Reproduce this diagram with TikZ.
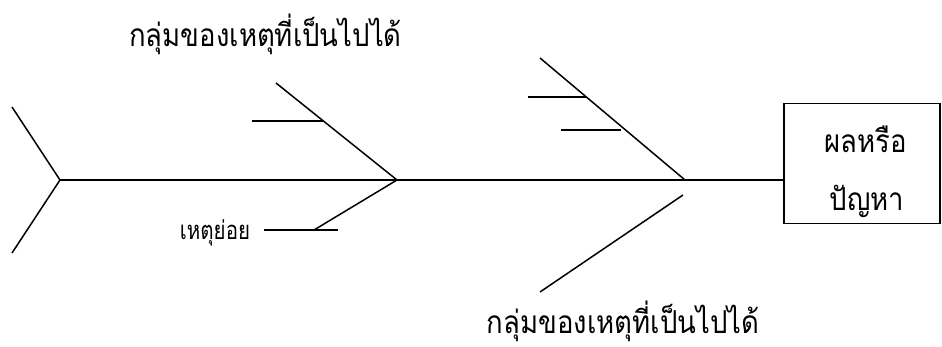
\documentclass[tikz,border=0pt]{standalone}
\usepackage{graphicx}
\usepackage{fontspec}
\newfontfamily\thaifont[Script=Thai]{Loma}
\newcommand{\tallthai}[2]{\scalebox{1}[#1]{#2}}
\begin{document}
\begin{tikzpicture}[x=1pt,y=-1pt,
  bone/.style={line width=1.5pt},
  biglbl/.style={font=\thaifont\fontsize{27.5}{32}\selectfont, anchor=base, inner sep=0pt},
  smalllbl/.style={font=\thaifont\fontsize{20.5}{24}\selectfont, anchor=base, inner sep=0pt},
  effbox/.style={draw, line width=1.5pt, minimum width=156pt, minimum height=120pt, inner sep=0pt, anchor=north west}]
\useasboundingbox (0,0) rectangle (942,347);
% tail
\coordinate (tailT) at (12,107);
\coordinate (tailJ) at (60,180);
\coordinate (tailB) at (12,253);
% effect box
\node[effbox] (effect) at (783,103) {};
\node[biglbl] (effA) at (866,153) {\tallthai{1.15}{ผลหรือ}};
\node[biglbl] (effB) at (867,211) {\tallthai{1.15}{ปัญหา}};
% junctions
\coordinate (j1) at (397,180);
\coordinate (j2) at (685,180);
% bone 1
\coordinate (b1t) at (276,83);
\coordinate (b1b) at (314,230);
\coordinate (s1a) at (252,121);
\coordinate (s1b) at (323,121);
\coordinate (s2a) at (264,230);
\coordinate (s2b) at (338,230);
% bone 2
\coordinate (b2t) at (540,58);
\coordinate (b2s) at (683,195);
\coordinate (b2b) at (540,292);
\coordinate (s3a) at (528,97);
\coordinate (s3b) at (586,97);
\coordinate (s4a) at (561,130);
\coordinate (s4b) at (621,130);
% labels
\node[biglbl] (topgrp) at (265.5,47) {\tallthai{1.15}{กลุ่มของเหตุที่เป็นไปได้}};
\node[biglbl] (botgrp) at (623,333) {\tallthai{1.15}{กลุ่มของเหตุที่เป็นไปได้}};
\node[smalllbl] (subcause) at (215,240) {\tallthai{1.25}{เหตุย่อย}};
% lines
\draw[bone] (tailT) -- (tailJ) -- (tailB);
\draw[bone] (tailJ) -- (tailJ -| effect.west);
\draw[bone] (b1t) -- (j1) -- (b1b);
\draw[bone] (s1a) -- (s1b);
\draw[bone] (s2a) -- (s2b);
\draw[bone] (b2t) -- (j2);
\draw[bone] (b2s) -- (b2b);
\draw[bone] (s3a) -- (s3b);
\draw[bone] (s4a) -- (s4b);
\end{tikzpicture}
\end{document}
